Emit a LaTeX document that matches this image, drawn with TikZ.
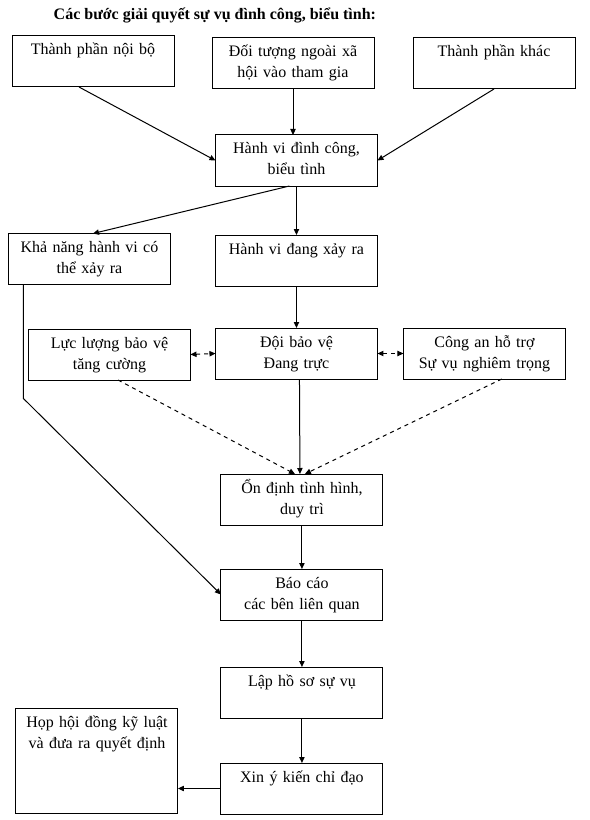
\documentclass[tikz,border=0pt]{standalone}
\usepackage{fontspec}
\setmainfont{Liberation Serif}
\usetikzlibrary{arrows,arrows.meta,positioning}
\tikzstyle{khung} = [rectangle, draw=black, line width=0.75pt, text width=121.5pt, align=center, inner sep=0pt, outer sep=0pt, text height=14.25pt, text depth=24pt]
\tikzstyle{khungcao} = [khung, text depth=64.5pt]
\tikzstyle{arrow} = [line width=0.75pt,->,>={Triangle[length=4.5pt,width=4pt]}]
\tikzstyle{dasharrow} = [arrow, dashed]

\begin{document}
\begin{tikzpicture}[font=\fontsize{12}{15.75}\selectfont]
\useasboundingbox (0,0) rectangle (441.75pt,-615pt);

% Tieu de
\node (tieude) [anchor=base west] at (36.75pt,-14.6pt) {\textbf{Các bước giải quyết sự vụ đình công, biểu tình:}};

% Hang dau: cac thanh phan
\node (noibo) [khung] at (69.75pt,-46.125pt) {Thành phần nội bộ};
\node (ngoaixa) [khung, right=28.5pt of noibo, yshift=-1.5pt] {Đối tượng ngoài xã\\ hội vào tham gia};
\node (khac) [khung, right=29.25pt of ngoaixa] {Thành phần khác};

% Hanh vi
\node (hanhvi) [khung, below=34.5pt of ngoaixa, xshift=2.6pt] {Hành vi đình công,\\ biểu tình};
\node (dangxayra) [khung, below=36.75pt of hanhvi] {Hành vi đang xảy ra};
\node (khanang) [khung, left=33.75pt of dangxayra, yshift=1.1pt] {Khả năng hành vi có\\ thể xảy ra};

% Hang bao ve
\node (doibaove) [khung, below=31.5pt of dangxayra] {Đội bảo vệ\\ Đang trực};
\node (lucluong) [khung, left=18.75pt of doibaove, yshift=-0.75pt] {Lực lượng bảo vệ\\ tăng cường};
\node (congan) [khung, right=19.5pt of doibaove] {Công an hỗ trợ\\ Sự vụ nghiêm trọng};

% Cot xu ly
\node (ondinh) [khung, below=71.25pt of doibaove, xshift=4.1pt] {Ổn định tình hình,\\ duy trì};
\node (baocao) [khung, below=33pt of ondinh] {Báo cáo\\ các bên liên quan};
\node (lapho) [khung, below=35.25pt of baocao] {Lập hồ sơ sự vụ};
\node (xinykien) [khung, below=33.75pt of lapho] {Xin ý kiến chỉ đạo};
\node (hoidong) [khungcao, left=32.25pt of xinykien, yshift=21pt] {Họp hội đồng kỹ luật\\ và đưa ra quyết định};

% Ket noi hang dau
\draw [arrow] ([xshift=-10.5pt]noibo.south) -- (hanhvi.west);
\draw [arrow] (ngoaixa.south) -- (ngoaixa.south |- hanhvi.north);
\draw [arrow] (khac.south) -- (hanhvi.east);

% Ket noi hanh vi
\draw [arrow] ([xshift=-5.25pt]hanhvi.south) -- ([xshift=2.6pt]khanang.north);
\draw [arrow] (hanhvi.south) -- (dangxayra.north);
\draw [arrow] (dangxayra.south) -- (doibaove.north);
\draw [arrow] ([xshift=11.25pt]khanang.south west) -- ++(0,-85.5pt) -- (baocao.west);

% Ket noi bao ve
\draw [dasharrow, <->] (lucluong.east) -- (doibaove.west);
\draw [dasharrow, <->] (doibaove.east) -- (congan.west);
\draw [dasharrow] ([xshift=6.4pt]lucluong.south) -- ([xshift=-5.25pt]ondinh.north);
\draw [arrow] ([xshift=2.25pt]doibaove.south) -- ([xshift=-1.5pt]ondinh.north);
\draw [dasharrow] ([xshift=13pt]congan.south) -- ([xshift=2.25pt]ondinh.north);

% Cot xu ly
\draw [arrow] (ondinh.south) -- (baocao.north);
\draw [arrow] (baocao.south) -- (lapho.north);
\draw [arrow] (lapho.south) -- (xinykien.north);
\draw [arrow] (xinykien.west) -- (xinykien.west -| hoidong.east);

\end{tikzpicture}
\end{document}
